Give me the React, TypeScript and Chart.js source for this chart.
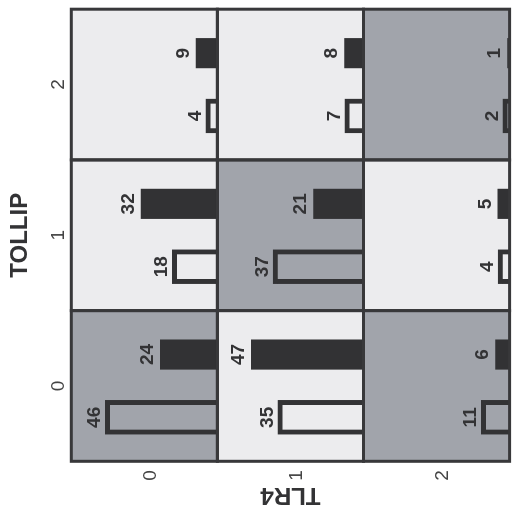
import React, { useEffect, useRef } from 'react';
import { Chart, registerables } from 'chart.js';

Chart.register(...registerables);

// Category labels
const TOLLIP = ['0', '1', '2'];
const TLR4 = ['0', '1', '2'];

// Counts indexed [TLR4][TOLLIP]
const openCounts = [
  [46, 18, 4],
  [35, 37, 7],
  [11, 4, 2],
];
const filledCounts = [
  [24, 32, 9],
  [47, 21, 8],
  [6, 5, 1],
];
// Highlighted (dark) cells, indexed [TLR4][TOLLIP]
const darkCells = [
  [true, false, false],
  [false, true, false],
  [true, false, true],
];

// Layout of one TOLLIP cell on the shared x axis (axis units)
const CELL_START = -0.7; // left edge of first cell
const CELL_SPAN = 2.4; // width of a cell
const BAR_SLOTS = [0, 1]; // open bar, filled bar (offset inside a cell)
const VALUE_MAX = 61;

const FAMILY = '"Liberation Sans", Arial, Helvetica, sans-serif';
const DARK_BG = '#a1a4ab';
const LIGHT_BG = '#ececee';
const INK = '#333335';

function cellRect(chart: any, r: number, c: number) {
  const xs = chart.scales.x;
  const ys = chart.scales['y' + r];
  const x0 = xs.getPixelForValue(CELL_START + CELL_SPAN * c);
  const x1 = xs.getPixelForValue(CELL_START + CELL_SPAN * (c + 1));
  return { x: x0, y: ys.top, w: x1 - x0, h: ys.bottom - ys.top };
}

const cellPlugin = {
  id: 'cells',
  beforeDatasetsDraw(chart: any) {
    const ctx = chart.ctx;
    ctx.save();
    TLR4.forEach((_, r) => {
      TOLLIP.forEach((__, c) => {
        const rc = cellRect(chart, r, c);
        ctx.fillStyle = darkCells[r][c] ? DARK_BG : LIGHT_BG;
        ctx.fillRect(rc.x, rc.y, rc.w, rc.h);
      });
    });
    ctx.restore();
  },
  afterDatasetsDraw(chart: any) {
    const ctx = chart.ctx;
    ctx.save();
    ctx.strokeStyle = '#38383a';
    ctx.lineWidth = 3;
    TLR4.forEach((_, r) => {
      TOLLIP.forEach((__, c) => {
        const rc = cellRect(chart, r, c);
        ctx.strokeRect(rc.x, rc.y, rc.w, rc.h);
      });
    });
    ctx.fillStyle = INK;
    ctx.font = `bold 19px ${FAMILY}`;
    ctx.textAlign = 'center';
    ctx.textBaseline = 'alphabetic';
    chart.data.datasets.forEach((ds: any, i: number) => {
      const meta = chart.getDatasetMeta(i);
      const bar = meta.data[0];
      if (!bar) return;
      ctx.fillText(String(ds.data[0].y), bar.x, bar.y - 7);
    });
    ctx.restore();
  },
};

function buildConfig(): any {
  const scales: any = {
    x: {
      type: 'linear',
      position: 'top',
      offset: false,
      min: CELL_START,
      max: CELL_START + CELL_SPAN * TOLLIP.length,
      grid: { display: false, drawTicks: false },
      border: { display: false },
      afterBuildTicks: (s: any) => {
        s.ticks = TOLLIP.map((_, c) => ({
          value: CELL_START + CELL_SPAN * c + CELL_SPAN / 2,
        }));
      },
      ticks: {
        callback: (_v: any, i: number) => TOLLIP[i],
        font: { family: FAMILY, size: 19 },
        color: '#444',
        padding: 1.5,
        autoSkip: false,
        maxRotation: 0,
      },
      title: {
        display: true,
        text: 'TOLLIP',
        font: { family: FAMILY, size: 24, weight: 'bold' },
        color: INK,
        padding: { top: 5.8, bottom: 0 },
      },
      afterFit: (s: any) => {
        s.height = 71.3;
      },
    },
  };
  TLR4.forEach((lab, r) => {
    scales['y' + r] = {
      type: 'linear',
      position: 'left',
      stack: 'tlr4',
      stackWeight: 1,
      weight: 3 - r,
      min: 0,
      max: VALUE_MAX,
      stacked: false,
      grid: { display: false, drawTicks: false },
      border: { display: false },
      afterBuildTicks: (s: any) => {
        s.ticks = [{ value: VALUE_MAX / 2 }];
      },
      ticks: {
        callback: () => lab,
        font: { family: FAMILY, size: 19 },
        color: '#444',
        padding: 9,
        labelOffset: 6,
      },
      title: {
        display: r === 1,
        text: 'TLR4',
        font: { family: FAMILY, size: 24, weight: 'bold' },
        color: INK,
        padding: { top: 6, bottom: 0 },
      },
      afterFit: (s: any) => {
        s.width = 53.7;
      },
    };
  });

  const datasets: any[] = [];
  TLR4.forEach((_, r) => {
    TOLLIP.forEach((__, c) => {
      datasets.push({
        label: `TLR4 ${TLR4[r]} / TOLLIP ${TOLLIP[c]} (open)`,
        data: [{ x: CELL_SPAN * c + BAR_SLOTS[0], y: openCounts[r][c] }],
        xAxisID: 'x',
        yAxisID: 'y' + r,
        grouped: false,
        backgroundColor: 'rgba(0,0,0,0)',
        borderColor: INK,
        borderWidth: 0.5,
        borderSkipped: 'start',
        inflateAmount: 2.25,
        barPercentage: 0.6,
        maxBarThickness: 37.5,
      });
      datasets.push({
        label: `TLR4 ${TLR4[r]} / TOLLIP ${TOLLIP[c]} (filled)`,
        data: [{ x: CELL_SPAN * c + BAR_SLOTS[1], y: filledCounts[r][c] }],
        xAxisID: 'x',
        yAxisID: 'y' + r,
        grouped: false,
        backgroundColor: '#323234',
        borderWidth: 0,
        barPercentage: 0.6,
        maxBarThickness: 37.5,
      });
    });
  });

  return {
    type: 'bar',
    data: { datasets },
    options: {
      responsive: false,
      animation: false,
      devicePixelRatio: 1,
      events: [],
      layout: { padding: { left: 0, top: 0, right: 9.2, bottom: 4.8 } },
      plugins: { legend: { display: false }, tooltip: { enabled: false } },
      scales,
    },
    plugins: [cellPlugin],
  };
}

export default function App() {
  const ref = useRef<HTMLCanvasElement>(null);
  useEffect(() => {
    if (!ref.current) return;
    const chart = new Chart(ref.current, buildConfig());
    return () => chart.destroy();
  }, []);
  return (
    <div
      style={{
        position: 'fixed',
        left: 0,
        top: 0,
        width: 522,
        height: 515,
        overflow: 'hidden',
        background: '#fff',
      }}
    >
      <canvas
        ref={ref}
        width={515}
        height={530}
        style={{
          position: 'absolute',
          left: 0,
          top: 0,
          width: 515,
          height: 530,
          transformOrigin: '0 0',
          transform: 'translate(0px, 515px) rotate(-90deg)',
        }}
      />
    </div>
  );
}
